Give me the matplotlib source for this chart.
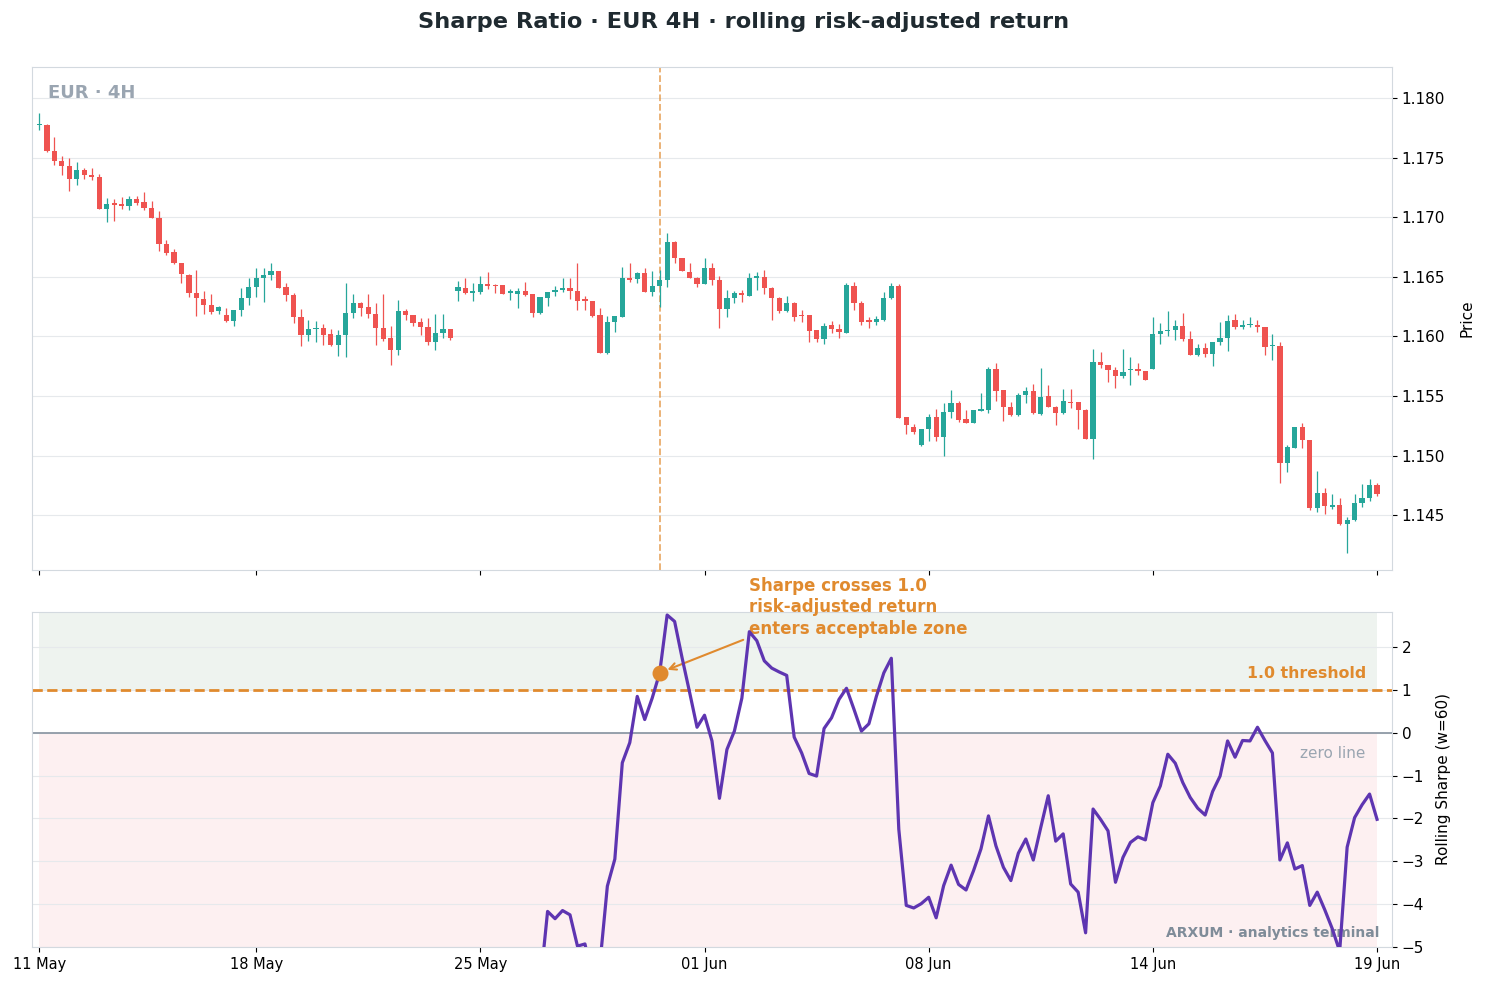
import numpy as np
import matplotlib
matplotlib.use("Agg")
import matplotlib.pyplot as plt

# 4H EUR candles
opens = [1.17770, 1.17776, 1.17559, 1.17475, 1.17433, 1.17324, 1.17400, 1.17352, 1.17341, 1.17065,
         1.17113, 1.17110, 1.17095, 1.17157, 1.17124, 1.17074, 1.16996, 1.16773, 1.16710, 1.16614,
         1.16517, 1.16363, 1.16313, 1.16266, 1.16216, 1.16180, 1.16132, 1.16221, 1.16322, 1.16416,
         1.16489, 1.16514, 1.16550, 1.16416, 1.16348, 1.16163, 1.16014, 1.16060, 1.16067, 1.16020,
         1.15924, 1.16008, 1.16197, 1.16284, 1.16247, 1.16185, 1.16067, 1.15983, 1.15882, 1.16213,
         1.16177, 1.16120, 1.16078, 1.15955, 1.16025, 1.16059, 1.16382, 1.16410, 1.16368, 1.16374,
         1.16443, 1.16432, 1.16429, 1.16367, 1.16358, 1.16378, 1.16352, 1.16196, 1.16324, 1.16369,
         1.16386, 1.16409, 1.16384, 1.16310, 1.16296, 1.16179, 1.15861, 1.16122, 1.16165, 1.16486,
         1.16480, 1.16528, 1.16372, 1.16426, 1.16477, 1.16793, 1.16656, 1.16543, 1.16494, 1.16443,
         1.16571, 1.16472, 1.16230, 1.16324, 1.16364, 1.16341, 1.16494, 1.16500, 1.16409, 1.16324,
         1.16210, 1.16278, 1.16179, 1.16179, 1.16051, 1.15975, 1.16094, 1.16060, 1.16031, 1.16421,
         1.16281, 1.16136, 1.16125, 1.16139, 1.16321, 1.16420, 1.15323, 1.15244, 1.15093, 1.15219,
         1.15323, 1.15157, 1.15365, 1.15438, 1.15303, 1.15275, 1.15376, 1.15379, 1.15725, 1.15548,
         1.15410, 1.15340, 1.15508, 1.15542, 1.15351, 1.15500, 1.15410, 1.15354, 1.15449, 1.15449,
         1.15379, 1.15140, 1.15787, 1.15761, 1.15716, 1.15669, 1.15715, 1.15730, 1.15707, 1.15729,
         1.16022, 1.16042, 1.16056, 1.16084, 1.15980, 1.15847, 1.15902, 1.15855, 1.15953, 1.15986,
         1.16140, 1.16075, 1.16092, 1.16098, 1.16081, 1.15916, 1.15922, 1.14940, 1.15065, 1.15238,
         1.15130, 1.14563, 1.14689, 1.14571, 1.14585, 1.14424, 1.14457, 1.14605, 1.14641, 1.14750]
highs = [1.17873, 1.17780, 1.17673, 1.17517, 1.17497, 1.17464, 1.17414, 1.17414, 1.17363, 1.17163,
         1.17157, 1.17170, 1.17182, 1.17177, 1.17213, 1.17135, 1.17052, 1.16806, 1.16732, 1.16618,
         1.16520, 1.16556, 1.16377, 1.16355, 1.16252, 1.16238, 1.16135, 1.16405, 1.16494, 1.16572,
         1.16570, 1.16612, 1.16552, 1.16452, 1.16362, 1.16233, 1.16135, 1.16129, 1.16100, 1.16064,
         1.16056, 1.16447, 1.16354, 1.16286, 1.16354, 1.16284, 1.16359, 1.16087, 1.16303, 1.16227,
         1.16179, 1.16157, 1.16157, 1.16185, 1.16185, 1.16061, 1.16461, 1.16486, 1.16452, 1.16508,
         1.16537, 1.16443, 1.16431, 1.16400, 1.16406, 1.16457, 1.16354, 1.16329, 1.16372, 1.16423,
         1.16494, 1.16494, 1.16619, 1.16335, 1.16299, 1.16236, 1.16173, 1.16173, 1.16585, 1.16619,
         1.16543, 1.16571, 1.16551, 1.16560, 1.16869, 1.16799, 1.16658, 1.16614, 1.16496, 1.16656,
         1.16614, 1.16506, 1.16386, 1.16381, 1.16386, 1.16534, 1.16543, 1.16557, 1.16415, 1.16330,
         1.16335, 1.16285, 1.16222, 1.16181, 1.16053, 1.16116, 1.16130, 1.16102, 1.16452, 1.16457,
         1.16295, 1.16159, 1.16173, 1.16372, 1.16452, 1.16440, 1.15325, 1.15261, 1.15221, 1.15351,
         1.15393, 1.15438, 1.15548, 1.15458, 1.15379, 1.15385, 1.15528, 1.15744, 1.15781, 1.15550,
         1.15452, 1.15522, 1.15579, 1.15598, 1.15733, 1.15590, 1.15412, 1.15556, 1.15556, 1.15451,
         1.15390, 1.15893, 1.15865, 1.15763, 1.15744, 1.15893, 1.15827, 1.15777, 1.15709, 1.16167,
         1.16112, 1.16209, 1.16140, 1.16195, 1.16042, 1.15936, 1.15944, 1.15952, 1.16120, 1.16176,
         1.16187, 1.16134, 1.16167, 1.16140, 1.16083, 1.16022, 1.15953, 1.15088, 1.15240, 1.15274,
         1.15132, 1.14870, 1.14730, 1.14675, 1.14647, 1.14485, 1.14675, 1.14759, 1.14800, 1.14772]
lows = [1.17734, 1.17545, 1.17436, 1.17352, 1.17219, 1.17269, 1.17324, 1.17316, 1.17065, 1.16962,
        1.16968, 1.17065, 1.17057, 1.17102, 1.17057, 1.16990, 1.16717, 1.16684, 1.16606, 1.16452,
        1.16327, 1.16174, 1.16188, 1.16188, 1.16188, 1.16118, 1.16090, 1.16174, 1.16266, 1.16327,
        1.16289, 1.16472, 1.16408, 1.16298, 1.16110, 1.15918, 1.15960, 1.15955, 1.15932, 1.15918,
        1.15834, 1.15826, 1.16152, 1.16171, 1.16152, 1.15932, 1.15960, 1.15764, 1.15848, 1.16135,
        1.16087, 1.16008, 1.15932, 1.15885, 1.15988, 1.15974, 1.16298, 1.16354, 1.16298, 1.16354,
        1.16400, 1.16364, 1.16352, 1.16307, 1.16239, 1.16335, 1.16159, 1.16190, 1.16259, 1.16335,
        1.16372, 1.16315, 1.16222, 1.16222, 1.16159, 1.15861, 1.15853, 1.16040, 1.16159, 1.16457,
        1.16449, 1.16370, 1.16335, 1.16250, 1.16415, 1.16619, 1.16549, 1.16486, 1.16415, 1.16438,
        1.16429, 1.16068, 1.16159, 1.16278, 1.16287, 1.16335, 1.16386, 1.16358, 1.16136, 1.16193,
        1.16205, 1.16131, 1.16122, 1.15955, 1.15955, 1.15938, 1.16032, 1.15983, 1.16029, 1.16222,
        1.16097, 1.16074, 1.16097, 1.16130, 1.16315, 1.15317, 1.15177, 1.15177, 1.15079, 1.15121,
        1.15121, 1.14994, 1.15312, 1.15284, 1.15273, 1.15270, 1.15374, 1.15360, 1.15458, 1.15289,
        1.15331, 1.15335, 1.15444, 1.15351, 1.15340, 1.15405, 1.15253, 1.15350, 1.15402, 1.15227,
        1.15135, 1.14972, 1.15739, 1.15621, 1.15570, 1.15655, 1.15595, 1.15679, 1.15634, 1.15727,
        1.15939, 1.16000, 1.15967, 1.15964, 1.15841, 1.15833, 1.15824, 1.15749, 1.15930, 1.15874,
        1.16061, 1.16061, 1.16075, 1.16033, 1.15847, 1.15805, 1.14772, 1.14864, 1.15063, 1.15065,
        1.14541, 1.14530, 1.14507, 1.14555, 1.14418, 1.14181, 1.14451, 1.14569, 1.14620, 1.14661]
closes = [1.17776, 1.17553, 1.17475, 1.17430, 1.17324, 1.17400, 1.17352, 1.17336, 1.17065, 1.17113,
          1.17105, 1.17095, 1.17157, 1.17121, 1.17074, 1.16996, 1.16773, 1.16698, 1.16612, 1.16522,
          1.16361, 1.16322, 1.16263, 1.16207, 1.16244, 1.16132, 1.16221, 1.16322, 1.16416, 1.16489,
          1.16517, 1.16545, 1.16410, 1.16345, 1.16166, 1.16011, 1.16059, 1.16067, 1.16011, 1.15924,
          1.16008, 1.16197, 1.16278, 1.16241, 1.16185, 1.16067, 1.15980, 1.15882, 1.16213, 1.16180,
          1.16115, 1.16081, 1.15955, 1.16025, 1.16059, 1.15988, 1.16416, 1.16368, 1.16374, 1.16438,
          1.16423, 1.16423, 1.16358, 1.16378, 1.16378, 1.16344, 1.16196, 1.16327, 1.16369, 1.16392,
          1.16409, 1.16381, 1.16301, 1.16293, 1.16173, 1.15861, 1.16122, 1.16170, 1.16486, 1.16477,
          1.16528, 1.16372, 1.16426, 1.16477, 1.16793, 1.16656, 1.16551, 1.16494, 1.16443, 1.16571,
          1.16472, 1.16230, 1.16324, 1.16364, 1.16344, 1.16494, 1.16500, 1.16409, 1.16324, 1.16210,
          1.16278, 1.16159, 1.16168, 1.16046, 1.15975, 1.16085, 1.16060, 1.16040, 1.16429, 1.16278,
          1.16117, 1.16122, 1.16148, 1.16321, 1.16420, 1.15317, 1.15253, 1.15197, 1.15219, 1.15323,
          1.15157, 1.15365, 1.15438, 1.15298, 1.15275, 1.15379, 1.15388, 1.15730, 1.15542, 1.15410,
          1.15340, 1.15508, 1.15542, 1.15360, 1.15492, 1.15410, 1.15354, 1.15458, 1.15441, 1.15379,
          1.15140, 1.15787, 1.15759, 1.15716, 1.15669, 1.15705, 1.15730, 1.15713, 1.15634, 1.16022,
          1.16042, 1.16056, 1.16084, 1.15978, 1.15847, 1.15902, 1.15855, 1.15950, 1.15986, 1.16131,
          1.16075, 1.16092, 1.16098, 1.16081, 1.15911, 1.15925, 1.14940, 1.15071, 1.15238, 1.15127,
          1.14563, 1.14689, 1.14577, 1.14585, 1.14424, 1.14457, 1.14605, 1.14641, 1.14750, 1.14680]

# rolling sharpe (w=60), first 60 bars have no value
sharpe = [np.nan] * 60 + [
    -7.2, -6.9, -7.4, -6.8, -6.5, -6.9, -6.6, -5.9, -4.17, -4.34,
    -4.15, -4.25, -4.98, -4.93, -5.7, -5.4, -3.58, -2.95, -0.70, -0.23,
    0.85, 0.31, 0.81, 1.40, 2.75, 2.60, 1.75, 0.95, 0.13, 0.41,
    -0.19, -1.53, -0.39, 0.04, 0.81, 2.36, 2.15, 1.68, 1.51, 1.42,
    1.34, -0.10, -0.47, -0.95, -1.01, 0.10, 0.35, 0.78, 1.04, 0.55,
    0.04, 0.21, 0.85, 1.40, 1.74, -2.25, -4.03, -4.09, -3.99, -3.84,
    -4.32, -3.57, -3.09, -3.54, -3.67, -3.22, -2.71, -1.94, -2.64, -3.14,
    -3.45, -2.81, -2.48, -2.97, -2.21, -1.47, -2.53, -2.36, -3.53, -3.72,
    -4.67, -1.78, -2.02, -2.29, -3.49, -2.91, -2.56, -2.43, -2.50, -1.63,
    -1.24, -0.50, -0.71, -1.16, -1.51, -1.76, -1.92, -1.37, -1.01, -0.19,
    -0.57, -0.18, -0.19, 0.13, -0.18, -0.47, -2.97, -2.57, -3.18, -3.10,
    -4.03, -3.72, -4.13, -4.57, -5.10, -2.67, -1.98, -1.68, -1.43, -2.02]

tick_labels = ["11 May", "18 May", "25 May", "01 Jun", "08 Jun", "14 Jun", "19 Jun"]
threshold = 1.0
cross_idx = 83

GREEN = "#26a69a"
RED = "#ef5350"
ORANGE = "#e08a2e"
PURPLE = "#5e35b1"
SPINE = "#d3d9df"
GRID = "#e6e9ec"

o = np.array(opens); h = np.array(highs); l = np.array(lows); c = np.array(closes)
s = np.array(sharpe)
n = len(c)
x = np.arange(n)
up = c >= o
cols = np.where(up, GREEN, RED)

fig = plt.figure(figsize=(14.87, 9.86), dpi=100)
ax1 = fig.add_axes([0.0215, 0.4219, 0.9146, 0.5101])
ax2 = fig.add_axes([0.0215, 0.0396, 0.9146, 0.3397], sharex=ax1)

# candles
ax1.vlines(x, l, h, color=cols, lw=0.9, zorder=2)
body = np.maximum(np.abs(c - o), 0.00012)
ax1.bar(x, body, bottom=np.minimum(o, c), width=0.7, color=cols, edgecolor=cols, lw=0, zorder=3)
ax1.axvline(cross_idx, color=ORANGE, ls="--", lw=1.3, alpha=0.7, zorder=1)
ax1.set_ylim(1.1404, 1.1826)
ax1.set_yticks([1.145, 1.150, 1.155, 1.160, 1.165, 1.170, 1.175, 1.180])
ax1.yaxis.set_major_formatter(matplotlib.ticker.FormatStrFormatter("%.3f"))
ax1.text(0.012, 0.967, "EUR · 4H", transform=ax1.transAxes, ha="left", va="top",
         fontsize=13, fontweight="bold", color="#9aa5b1")
ax1.set_ylabel("Price", fontsize=11, labelpad=10.5)

# sharpe panel
ax2.fill_between([0, n - 1], threshold, 10, color="#eef3ef", lw=0, zorder=0)
ax2.fill_between([0, n - 1], -10, 0, color="#fdf0f1", lw=0, zorder=0)
ax2.axhline(0, color="#8f9aa6", lw=1.3, zorder=2)
ax2.axhline(threshold, color=ORANGE, ls="--", lw=2, zorder=2)
ax2.plot(x, s, color=PURPLE, lw=2.3, zorder=4)
ax2.scatter([cross_idx], [s[cross_idx]], s=110, color=ORANGE, zorder=5)
ax2.annotate("Sharpe crosses 1.0\nrisk-adjusted return\nenters acceptable zone",
             xy=(cross_idx, s[cross_idx]), xytext=(94.9, 2.22),
             fontsize=12, fontweight="bold", color=ORANGE, ha="left", va="bottom",
             linespacing=1.25, annotation_clip=False,
             arrowprops=dict(arrowstyle="->", color=ORANGE, lw=1.5, relpos=(0, 0),
                             shrinkA=2, shrinkB=6))
ax2.text(177.5, threshold + 0.2, "1.0 threshold", ha="right", va="bottom",
         fontsize=11.3, fontweight="bold", color=ORANGE)
ax2.text(177.5, -0.3, "zero line", ha="right", va="top", fontsize=11, color="#9aa5b1")
ax2.text(0.991, 0.022, "ARXUM · analytics terminal", transform=ax2.transAxes,
         ha="right", va="bottom", fontsize=10, fontweight="bold", color="#7f8c99")
ax2.set_ylim(-5, 2.82)
ax2.set_yticks(range(-5, 3))
ax2.yaxis.set_major_formatter(matplotlib.ticker.FuncFormatter(lambda v, p: f"{int(v)}".replace("-", "\u2212")))
ax2.set_ylabel("Rolling Sharpe (w=60)", fontsize=11, labelpad=8.5)

ticks = np.linspace(0, n - 1, len(tick_labels)).astype(int)
ax2.set_xlim(-1, n + 1)
ax2.set_xticks(ticks)
ax2.set_xticklabels(tick_labels, fontsize=10.5)
plt.setp(ax1.get_xticklabels(), visible=False)

for ax in (ax1, ax2):
    ax.yaxis.tick_right()
    ax.yaxis.set_label_position("right")
    ax.tick_params(axis="y", labelsize=11)
    ax.grid(axis="y", color=GRID, lw=0.8, zorder=0)
    ax.set_axisbelow(True)
    for sp in ax.spines.values():
        sp.set_color(SPINE)

fig.suptitle("Sharpe Ratio · EUR 4H · rolling risk-adjusted return", fontsize=16.2,
             fontweight="bold", color="#1f2a30", y=0.978, va="center")

fig.savefig("out.png", dpi=100)
